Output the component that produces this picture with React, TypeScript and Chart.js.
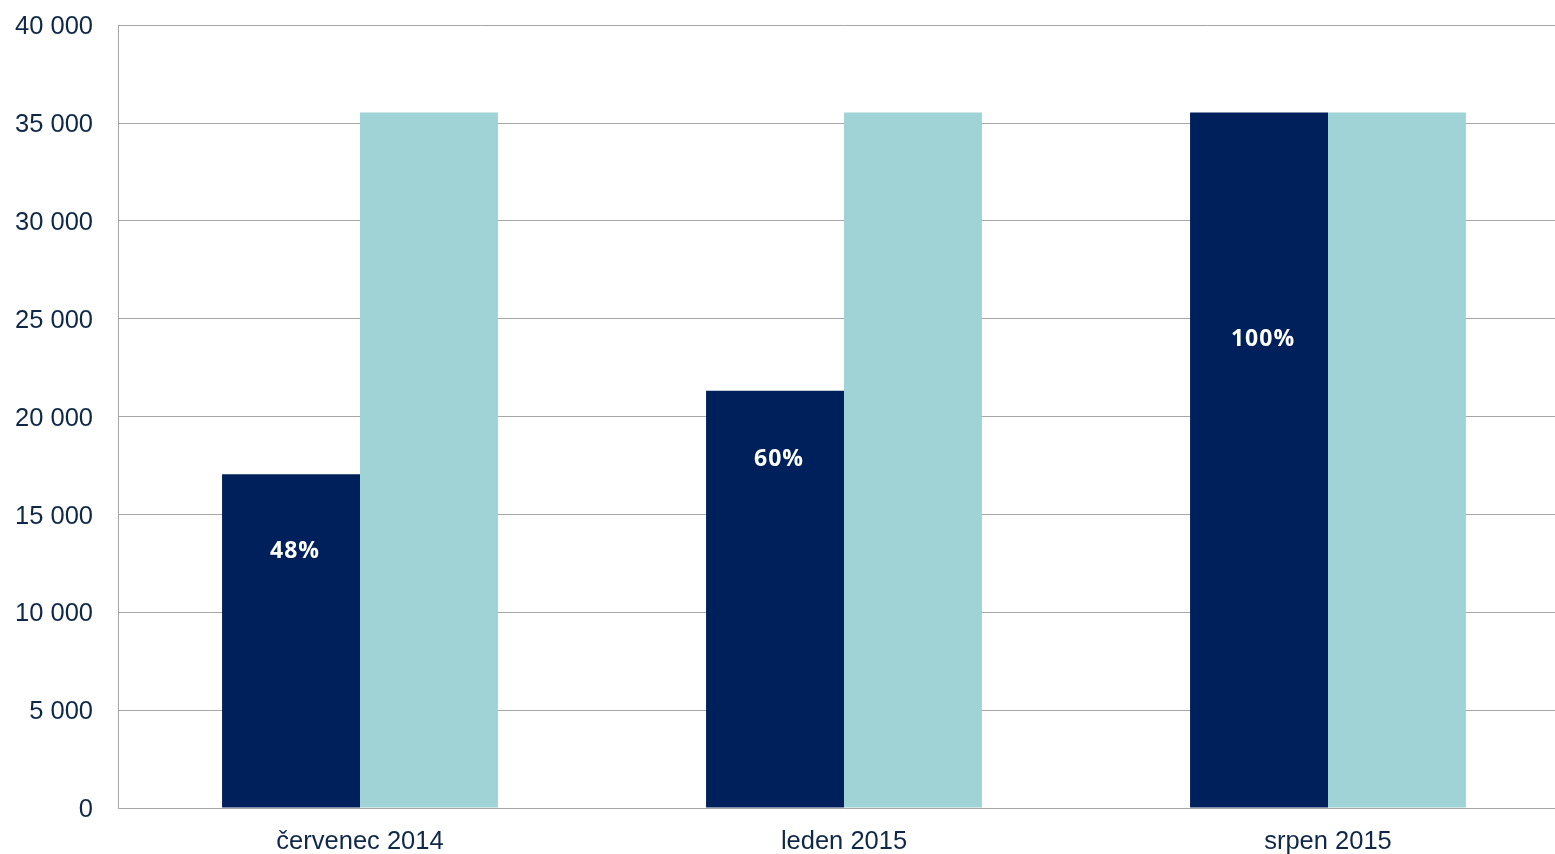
import React, { useEffect, useRef } from "react";
import { Chart, registerables } from "chart.js";

Chart.register(...registerables);

const categories = ["červenec 2014", "leden 2015", "srpen 2015"];
const actualValues = [17060, 21320, 35550];
const targetValues = [35550, 35550, 35550];
const percentLabels = ["48%", "60%", "100%"];
// value (on the y scale) at which each percentage label sits
const labelAnchorValues = [13090, 17790, 23920];
const yTickStep = 5000;
const yMax = 40000;

const DARK = "#00205c";
const LIGHT = "#9fd3d6";
const TEXT = "#0f2848";
const GRID = "#a6a6a6";

const formatThousands = (v: number) =>
  v === 0 ? "0" : String(v).replace(/\B(?=(\d{3})+(?!\d))/g, " ");

const percentLabelPlugin = {
  id: "percentLabels",
  afterDatasetsDraw(chart: any) {
    const meta = chart.getDatasetMeta(0);
    const y = chart.scales.y;
    const ctx = chart.ctx;
    ctx.save();
    ctx.fillStyle = "#ffffff";
    ctx.font = "bold 23px 'Open Sans'";
    (ctx as any).letterSpacing = "1px";
    ctx.textAlign = "center";
    ctx.textBaseline = "middle";
    meta.data.forEach((bar: any, i: number) => {
      ctx.fillText(percentLabels[i], bar.x + 4, y.getPixelForValue(labelAnchorValues[i]));
    });
    ctx.restore();
  },
};

export default function App() {
  const ref = useRef<HTMLCanvasElement>(null);
  useEffect(() => {
    if (!ref.current) return;
    const chart = new Chart(ref.current, {
      type: "bar",
      data: {
        labels: categories,
        datasets: [
          {
            data: actualValues,
            backgroundColor: DARK,
            borderWidth: 0,
            categoryPercentage: 0.57,
            barPercentage: 1,
          },
          {
            data: targetValues,
            backgroundColor: LIGHT,
            borderWidth: 0,
            categoryPercentage: 0.57,
            barPercentage: 1,
          },
        ],
      },
      options: {
        animation: false,
        responsive: false,
        layout: { padding: { top: 10, right: 30, left: 0, bottom: 0 } },
        plugins: { legend: { display: false }, tooltip: { enabled: false } },
        scales: {
          x: {
            grid: { display: false, drawTicks: false },
            border: { color: GRID, width: 1 },
            ticks: {
              color: TEXT,
              font: { family: "'Liberation Sans', Arial", size: 25.5 },
              padding: 19,
            },
            afterFit: (s: any) => {
              s.height = 46;
            },
          },
          y: {
            min: 0,
            max: yMax,
            grid: { color: GRID, lineWidth: 1, drawTicks: false },
            border: { color: GRID, width: 1 },
            ticks: {
              stepSize: yTickStep,
              color: TEXT,
              font: { family: "'Liberation Sans', Arial", size: 25.5 },
              padding: 25,
              labelOffset: 2,
              callback: (v: any) => formatThousands(Number(v)),
            },
            afterFit: (s: any) => {
              s.width = 118;
            },
          },
        },
      },
      plugins: [percentLabelPlugin],
    });
    return () => chart.destroy();
  }, []);
  return (
    <div
      style={{
        position: "fixed",
        left: 0,
        top: 0,
        width: 1555,
        height: 854,
        overflow: "hidden",
        background: "#fff",
      }}
    >
      <canvas
        ref={ref}
        width={1600}
        height={869}
        style={{ width: 1600, height: 869, display: "block", position: "absolute", left: 0, top: -15 }}
      />
    </div>
  );
}
